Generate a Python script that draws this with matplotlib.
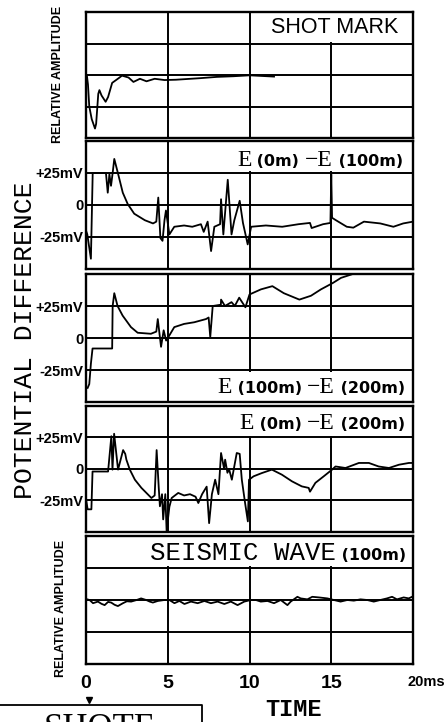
import matplotlib
matplotlib.use("Agg")
import matplotlib.pyplot as plt
import matplotlib.transforms as mtransforms
from matplotlib.patches import Rectangle
from matplotlib.offsetbox import TextArea, HPacker, AnchoredOffsetbox
from matplotlib.lines import Line2D

# ---- values (time in ms) ----
shot_t = [0.05, 0.12, 0.2, 0.35, 0.55, 0.62, 0.75, 0.82, 0.95, 1.2, 1.35, 1.6, 2.0,
          2.2, 2.6, 2.9, 3.3, 3.7, 4.2, 4.8, 5.5, 7.0, 8.0, 9.0, 10.0, 11.5]
shot_v = [0.0, -0.3, -1.0, -1.4, -1.7, -1.55, -0.6, -0.48, -0.65, -0.85, -0.7, -0.25, -0.1,
          -0.02, -0.08, -0.22, -0.12, -0.2, -0.12, -0.16, -0.15, -0.1, -0.06, -0.04, -0.01, -0.05]

# E(0m) - E(100m), mV
e01_t = [0.0, 0.08, 0.3, 0.41, 0.5, 1.22, 1.33, 1.43, 1.53, 1.63, 1.73, 1.95, 2.25, 2.55,
         2.95, 3.6, 4.1, 4.3, 4.42, 4.55, 4.68, 4.8, 4.89, 5.1, 5.4, 6.0, 6.5, 7.03, 7.2,
         7.44, 7.65, 7.85, 8.2, 8.26, 8.4, 8.67, 8.9, 9.07, 9.4, 9.6, 9.89, 10.1, 11.0, 12.0,
         13.0, 13.7, 13.8, 14.5, 14.95, 15.0, 15.05, 15.3, 15.95, 16.35, 17.0, 18.0, 18.8,
         19.4, 20.0]
e01_v = [-20, -23, -42, 25, 25, 25, 9.6, 24, 15, 25, 36, 25, 9.6, 0.8,
         -6.8, -11.9, -14.4, -13, 5.8, -25.8, -28, -12, -4.3, -23, -17, -16, -17, -15, -21,
         -13, -36, -17, -15, 4.5, -23, 19.7, -23, -12, 3.3, -14, -30.8, -17, -16, -17,
         -15, -14, -18, -15, -14, 24, -10, -12, -17, -17.7, -13, -14.4, -17,
         -14.4, -13]

# E(100m) - E(200m), mV
e12_t = [0.1, 0.2, 0.3, 0.4, 1.6, 1.63, 1.73, 1.93, 2.24, 2.75, 3.16, 3.97, 4.3, 4.39,
         4.59, 4.75, 4.9, 5.04, 5.4, 6.0, 6.62, 7.34, 7.5, 7.6, 7.75, 8.25, 8.26, 8.5,
         8.9, 9.1, 9.37, 9.75, 10.0, 10.7, 11.4, 12.1, 13.05, 13.76, 14.37, 15.1, 15.6,
         16.2, 17.0, 20.0]
e12_v = [-39, -36, -20, -8.2, -8.2, 25, 35, 25, 17.5, 8.5, 4.1, 3.3, 5, 14.8,
         -6.9, 6, -2, 0.8, 8.5, 11, 12.3, 14.8, 16, 0.8, 25, 26, 30, 25,
         28, 25, 31.5, 24, 34, 38, 40.5, 35, 30, 33, 38, 43, 47,
         49.5, 53, 55]

# E(0m) - E(200m), mV
e02_t = [0.02, 0.1, 0.33, 0.4, 1.35, 1.55, 1.62, 1.72, 1.96, 2.27, 2.4, 2.47, 2.68, 2.99,
         3.39, 4.0, 4.2, 4.32, 4.45, 4.52, 4.65, 4.72, 4.85, 4.93, 5.1, 5.24, 5.64, 6.0,
         6.36, 6.7, 6.87, 7.1, 7.38, 7.53, 7.7, 7.9, 8.1, 8.26, 8.45, 8.51, 8.65, 8.75,
         8.92, 9.22, 9.4, 9.53, 9.73, 9.9, 9.97, 10.25, 10.76, 11.37, 11.98, 12.6, 13.2,
         13.62, 13.7, 14.03, 14.54, 15.05, 15.26, 15.87, 16.69, 17.3, 17.9, 18.53, 19.14,
         19.75, 20.0]
e02_v = [-25.5, -32, -32, -2, -2, 26, -0.5, 28, -0.5, 15, 12, 7.4, -0.5, -8.5,
         -15, -23, -21, 15, -15, -29.6, -20, -40, -20, -49, -30, -23, -19, -21,
         -20, -22, -27, -20, -14, -43, -20, -8.5, -20, 12.7, 0, 7.4, -3, 0,
         -8.5, 12.7, 12, -8.5, -27, -41.6, -8.5, -5.8, -3.2, -0.5, -4.5, -9.8, -13.8,
         -15, -18, -11, -5.8, -0.5, 2, 0.8, 4.8, 4.8, 2, 0.8, 3.4,
         4.8, 4.8]

# seismic wave at 100 m, relative amplitude
seis_t = [0.0, 0.22, 0.43, 0.73, 0.95, 1.14, 1.35, 1.54, 1.75, 1.95, 2.26, 2.5, 2.76, 3.1,
          3.37, 3.68, 3.9, 4.09, 4.39, 4.8, 5.1, 5.41, 5.71, 6.02, 6.42, 6.83, 7.24, 7.64,
          8.05, 8.46, 8.86, 9.27, 9.68, 10.08, 10.39, 10.69, 11.1, 11.5, 11.91, 12.32,
          12.52, 12.93, 13.13, 13.54, 13.84, 14.25, 14.76, 15.16, 15.57, 15.98, 16.38,
          16.79, 17.2, 17.6, 18.0, 18.41, 18.72, 19.02, 19.43, 19.74, 19.94]
seis_v = [0.03, 0.0, -0.1, -0.05, -0.12, -0.16, -0.06, -0.08, -0.15, -0.19, -0.1, -0.04,
          -0.05, 0.0, 0.05, 0.0, -0.05, -0.08, -0.03, 0.0, 0.0, -0.1, -0.03, -0.125, -0.05,
          -0.1, -0.03, -0.1, -0.05, -0.125, -0.05, -0.16, -0.05, 0.0, 0.0, -0.05, -0.03,
          -0.1, 0.0, -0.16, -0.05, 0.1, 0.05, 0.02, 0.1, 0.08, 0.05, 0.0, -0.05, 0.0,
          -0.02, 0.02, 0.0, -0.05, 0.0, 0.05, 0.1, 0.02, 0.08, 0.05, 0.1]

time_ticks = [0, 5, 10, 15, 20]
time_labels = ['0', '5', '10', '15', '20ms']
mv_ticks = [25, 0, -25]
mv_labels = ['+25mV', '0', '-25mV']
rel_ticks = [1, 0, -1]

W, H = 445, 722
SANS = 'Liberation Sans'

fig = plt.figure(figsize=(W / 100, H / 100), dpi=100)
fig.patch.set_facecolor('white')

# panel boxes in pixels (top, bottom)
tops = [12, 141, 274, 406, 536]
bottoms = [138, 269, 402, 532, 664]


def make_axes(top, bottom):
    ax = fig.add_axes([86 / W, 1 - bottom / H, 327 / W, (bottom - top) / H])
    ax.set_xlim(0, 20)
    ax.set_xticks(time_ticks)
    ax.tick_params(length=0, labelbottom=False)
    ax.set_axisbelow(True)
    ax.grid(True, color='black', lw=1.4)
    for s in ax.spines.values():
        s.set_linewidth(1.7)
    return ax


def blank_box(ax, x0, y0, w, h):
    ax.add_patch(Rectangle((x0, y0), w, h, transform=ax.transAxes,
                           facecolor='white', edgecolor='none', zorder=1.5))


def add_label(ax, parts, x, y):
    pack = HPacker(children=[TextArea(s, textprops=p) for s, p in parts],
                   align='baseline', pad=0, sep=0)
    box = AnchoredOffsetbox(loc='center right', child=pack, pad=0, borderpad=0,
                            frameon=False, bbox_to_anchor=(x, y),
                            bbox_transform=ax.transAxes)
    box.set_zorder(3)
    ax.add_artist(box)


big_e = dict(family='Liberation Serif', size=17)
small_p = dict(family='DejaVu Sans', size=11.5, weight='bold')


def e_label(ax, a, b, x, y):
    add_label(ax, [('E', big_e), (' (' + a + ') ', small_p),
                   ('\u2212E', big_e), (' (' + b + ')', small_p)], x, y)


axes = [make_axes(t, b) for t, b in zip(tops, bottoms)]
ax1, ax2, ax3, ax4, ax5 = axes

# relative amplitude panels
for ax in (ax1, ax5):
    ax.set_ylim(-2, 2)
    ax.set_yticks(rel_ticks)
    ax.tick_params(labelleft=False)

# potential difference panels
for ax in (ax2, ax3, ax4):
    ax.set_ylim(-50, 50)
    ax.set_yticks(mv_ticks, mv_labels)
    ax.tick_params(pad=2)
    for lab in ax.get_yticklabels():
        lab.set_fontfamily(SANS)
        lab.set_fontweight('bold')
        lab.set_fontsize(10.5)

traces = [(ax1, shot_t, shot_v), (ax2, e01_t, e01_v), (ax3, e12_t, e12_v),
          (ax4, e02_t, e02_v), (ax5, seis_t, seis_v)]
for ax, t, v in traces:
    ax.plot(t, v, color='black', lw=1.3, zorder=2)

# white label areas over the grid
blank_box(ax1, 0.52, 0.765, 0.48, 0.235)
blank_box(ax2, 0.42, 0.765, 0.58, 0.235)
blank_box(ax3, 0.27, 0.0, 0.73, 0.235)
blank_box(ax4, 0.42, 0.765, 0.58, 0.235)
blank_box(ax5, 0.20, 0.765, 0.80, 0.235)

ax1.text(0.954, 0.88, 'SHOT MARK', transform=ax1.transAxes, ha='right', va='center',
         family=SANS, size=15.5, zorder=3)
e_label(ax2, '0m', '100m', 0.969, 0.85)
e_label(ax3, '100m', '200m', 0.976, 0.11)
e_label(ax4, '0m', '200m', 0.976, 0.865)
add_label(ax5, [('SEISMIC WAVE', dict(family='Liberation Mono', size=18.5)),
                (' (100m)', small_p)], 0.98, 0.867)

# time axis labels
ax5.set_xticks(time_ticks, time_labels)
ax5.tick_params(labelbottom=True, pad=8)
for lab in ax5.get_xticklabels():
    lab.set_fontfamily(SANS)
    lab.set_fontweight('bold')
    lab.set_fontsize(14)
last = ax5.get_xticklabels()[-1]
last.set_fontsize(10.5)
last.set_horizontalalignment('left')
last.set_transform(last.get_transform() +
                   mtransforms.ScaledTranslation(-6 / 100, 0, fig.dpi_scale_trans))

# axis titles
fig.text(58 / W, 1 - 74 / H, 'RELATIVE AMPLITUDE', rotation=90, ha='center', va='center',
         family=SANS, weight='bold', size=9)
fig.text(61 / W, 1 - 608 / H, 'RELATIVE AMPLITUDE', rotation=90, ha='center', va='center',
         family=SANS, weight='bold', size=9)
fig.text(25 / W, 1 - 340 / H, 'POTENTIAL DIFFERENCE', rotation=90, ha='center', va='center',
         family='Liberation Mono', size=19)
fig.text(294 / W, 1 - 710 / H, 'TIME', ha='center', va='center',
         family='Liberation Mono', weight='bold', size=17)

# cut-off box at the bottom left
fig.add_artist(Line2D([0, 202 / W, 202 / W], [1 - 705 / H, 1 - 705 / H, 0],
                      transform=fig.transFigure, color='black', lw=1.3))
fig.add_artist(Line2D([89 / W], [1 - 700 / H], transform=fig.transFigure, marker='v',
                      ms=5, color='black'))
fig.text(100 / W, 1 - 738 / H, 'SHOTE', ha='center', va='baseline',
         family='Liberation Serif', size=25)

fig.savefig('out.png', dpi=100, facecolor='white')
